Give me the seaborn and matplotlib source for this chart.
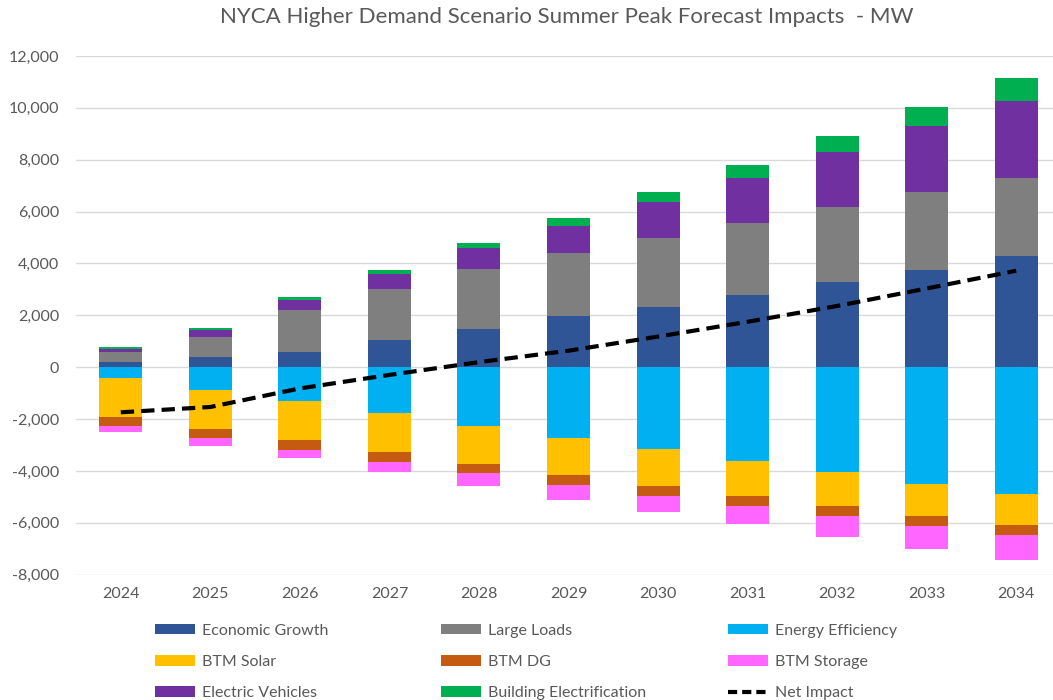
import numpy as np
import pandas as pd
import matplotlib
matplotlib.use("Agg")
import matplotlib.pyplot as plt
from matplotlib.patches import Patch
from matplotlib.lines import Line2D
from matplotlib.ticker import FuncFormatter, MultipleLocator
import seaborn as sns

years = ["2024", "2025", "2026", "2027", "2028", "2029", "2030", "2031", "2032", "2033", "2034"]
economic_growth = [190, 375, 580, 1045, 1480, 1985, 2310, 2785, 3275, 3765, 4295]
large_loads = [390, 785, 1637, 1985, 2300, 2400, 2670, 2775, 2915, 3005, 3005]
electric_vehicles = [130, 285, 387, 580, 800, 1060, 1380, 1725, 2100, 2540, 2980]
building_electrification = [55, 55, 92, 142, 190, 295, 400, 530, 635, 720, 865]
energy_efficiency = [-430, -865, -1305, -1780, -2255, -2735, -3170, -3610, -4050, -4490, -4875]
btm_solar = [-1510, -1510, -1495, -1510, -1460, -1405, -1405, -1355, -1315, -1250, -1200]
btm_dg = [-335, -375, -385, -385, -385, -385, -385, -375, -375, -375, -385]
btm_storage = [-230, -285, -330, -375, -475, -580, -620, -725, -825, -880, -965]

colors = {
    "Economic Growth": "#2F5597",
    "Large Loads": "#7F7F7F",
    "Energy Efficiency": "#00B0F0",
    "BTM Solar": "#FFC000",
    "BTM DG": "#C55A11",
    "BTM Storage": "#FF66FF",
    "Electric Vehicles": "#7030A0",
    "Building Electrification": "#00B050",
}

pos_series = [("Economic Growth", economic_growth), ("Large Loads", large_loads),
              ("Electric Vehicles", electric_vehicles), ("Building Electrification", building_electrification)]
neg_series = [("Energy Efficiency", energy_efficiency), ("BTM Solar", btm_solar),
              ("BTM DG", btm_dg), ("BTM Storage", btm_storage)]

df = pd.DataFrame({"year": years})
net = np.zeros(len(years))
for name, vals in pos_series + neg_series:
    df[name] = vals
    net += np.array(vals)
df["Net Impact"] = net

sns.set_style("white")
plt.rcParams["font.family"] = ["Lato", "DejaVu Sans"]
text_color = "#595959"

fig = plt.figure(figsize=(10.53, 7.0), dpi=100)
ax = fig.add_axes([0.0722, 0.1791, 0.9354, 0.7409])

def stacked(series):
    cum = np.zeros(len(years))
    cums = []
    for name, vals in series:
        cum = cum + np.array(vals)
        cums.append((name, cum.copy()))
    for name, c in reversed(cums):
        d = pd.DataFrame({"year": years, "v": c})
        sns.barplot(data=d, x="year", y="v", order=years, color=colors[name],
                    saturation=1, width=0.48, errorbar=None, linewidth=0, ax=ax, zorder=2)

stacked(pos_series)
stacked(neg_series)

sns.pointplot(data=df, x="year", y="Net Impact", order=years, color="black",
              errorbar=None, markers="", linestyles="--", ax=ax)
for ln in ax.lines:
    ln.set_linewidth(3.0)
    ln.set_dashes((3.2, 1.7))
    ln.set_zorder(5)

ax.set_xlim(-0.5, len(years) - 0.5)
ax.set_ylim(-8000, 12000)
ax.yaxis.set_major_locator(MultipleLocator(2000))
ax.yaxis.set_major_formatter(FuncFormatter(lambda v, p: f"{v:,.0f}"))
ax.grid(axis="y", color="#D9D9D9", linewidth=1.0, zorder=0)
ax.set_axisbelow(True)
for s in ax.spines.values():
    s.set_visible(False)
ax.set_xlabel("")
ax.set_ylabel("")
ax.tick_params(axis="both", length=0, labelsize=11.5, labelcolor=text_color)
ax.tick_params(axis="y", pad=12)
ax.tick_params(axis="x", pad=9)

fig.text(567 / 1053, 1 - 17 / 700, "NYCA Higher Demand Scenario Summer Peak Forecast Impacts  - MW",
         ha="center", va="center", fontsize=16, color=text_color, fontweight="normal")

legend_cols = [
    ["Economic Growth", "BTM Solar", "Electric Vehicles"],
    ["Large Loads", "BTM DG", "Building Electrification"],
    ["Energy Efficiency", "BTM Storage", "Net Impact"],
]
col_x = [155, 441, 728]
for cx, names in zip(col_x, legend_cols):
    handles = []
    for n in names:
        if n == "Net Impact":
            handles.append(Line2D([0], [0], color="black", lw=3.0, linestyle="--", dashes=(2.2, 1.2)))
        else:
            handles.append(Patch(facecolor=colors[n], edgecolor="none"))
    leg = fig.legend(handles, names, loc="upper left", bbox_to_anchor=(cx / 1053, 1 - 624 / 700),
                     frameon=False, fontsize=11.5, handlelength=2.5, handleheight=0.6,
                     handletextpad=0.45, labelspacing=1.07, borderpad=0, borderaxespad=0)
    for t in leg.get_texts():
        t.set_color(text_color)

fig.savefig("out.png", dpi=100)
